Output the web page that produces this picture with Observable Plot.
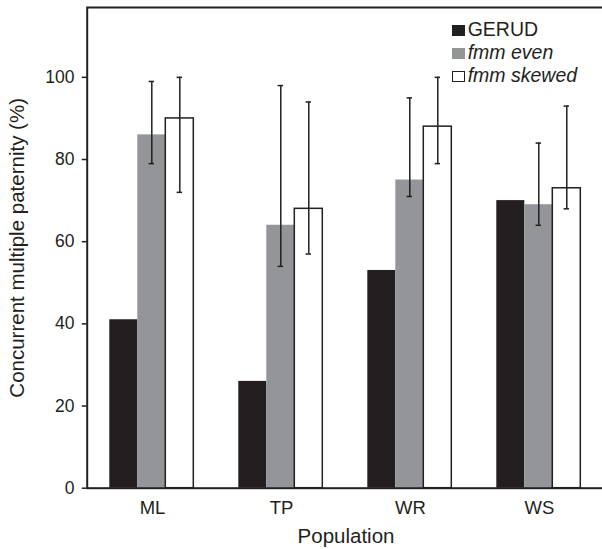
<!DOCTYPE html>
<html>
<head>
<meta charset="utf-8">
<script src="https://cdn.jsdelivr.net/npm/d3@7"></script>
<script src="https://cdn.jsdelivr.net/npm/@observablehq/plot@0.6"></script>
<style>
  body { margin: 0; background: #fff; }
  #wrap { position: relative; width: 602px; height: 549px; overflow: hidden;
          font-family: "Liberation Sans", Arial, sans-serif; color: #231f20; }
  #wrap svg { position: absolute; left: 0; top: 0; }
  #legend { position: absolute; left: 451.7px; top: 18px; font-size: 19.5px; line-height: 23px; }
  #legend .sw { display: inline-block; width: 13px; height: 11px; margin-right: 3px; box-sizing: border-box; }
</style>
</head>
<body>
<div id="wrap"></div>
<script>
// ---- data ----
const populations = ["ML", "TP", "WR", "WS"];
const series = ["GERUD", "fmm even", "fmm skewed"];
const gerud = [41, 26, 53, 70];
const fmmEven = [86, 64, 75, 69];
const fmmEvenLow = [79, 54, 71, 64];
const fmmEvenHigh = [99, 98, 95, 84];
const fmmSkewed = [90, 68, 88, 73];
const fmmSkewedLow = [72, 57, 79, 68];
const fmmSkewedHigh = [100, 94, 100, 93];
const yTicks = [0, 20, 40, 60, 80, 100];
const xTitle = "Population";
const yTitle = "Concurrent multiple paternity (%)";

// ---- styles ----
const ink = "#231f20";
const fills = {"GERUD": ink, "fmm even": "#939598", "fmm skewed": "#ffffff"};
const font = '"Liberation Sans", Arial, sans-serif';

const rows = [];
populations.forEach((p, i) => {
  rows.push({population: p, series: "GERUD", value: gerud[i], low: null, high: null});
  rows.push({population: p, series: "fmm even", value: fmmEven[i], low: fmmEvenLow[i], high: fmmEvenHigh[i]});
  rows.push({population: p, series: "fmm skewed", value: fmmSkewed[i], low: fmmSkewedLow[i], high: fmmSkewedHigh[i]});
});

const W = 602, H = 549;
const margins = {marginTop: 7, marginBottom: 61.3, marginLeft: 86.7, marginRight: -2.3};
const yDomain = [0, 117];
const bandPad = {paddingInner: 0.325, paddingOuter: 0.162};

// Layer 1: grouped bars (faceted by population)
const bars = Plot.plot({
  width: W, height: H, ...margins,
  style: {background: "transparent", fontFamily: font, color: ink},
  facet: {data: rows, x: "population"},
  fx: {domain: populations, ...bandPad, axis: null},
  x: {domain: series, padding: 0, axis: null},
  y: {domain: yDomain, axis: null},
  marks: [
    Plot.barY(rows, {x: "series", y: "value", fill: d => fills[d.series],
      stroke: d => d.series === "fmm skewed" ? ink : "none", strokeWidth: 1.5}),
    Plot.ruleX(rows, {filter: d => d.low != null, x: "series", y1: "low", y2: "high", stroke: ink, strokeWidth: 1.5}),
    Plot.tickY(rows, {filter: d => d.low != null, x: "series", y: "low", stroke: ink, strokeWidth: 1.5, insetLeft: 11.3, insetRight: 11.3}),
    Plot.tickY(rows, {filter: d => d.low != null, x: "series", y: "high", stroke: ink, strokeWidth: 1.5, insetLeft: 11.3, insetRight: 11.3})
  ]
});

// Layer 2: frame, axes and titles
const axes = Plot.plot({
  width: W, height: H, ...margins,
  style: {background: "transparent", fontFamily: font, color: ink},
  x: {domain: populations, ...bandPad, axis: null},
  y: {domain: yDomain, axis: null},
  marks: [
    Plot.frame({stroke: ink, strokeWidth: 2}),
    Plot.axisY(yTicks, {tickSize: 5, tickPadding: 7.7, fontSize: 17.5, label: null, stroke: ink, strokeWidth: 1.5, fill: ink}),
    Plot.axisX({tickSize: 0, tickPadding: 13, fontSize: 18.5, label: null, fill: ink}),
    Plot.text([xTitle], {text: d => d, frameAnchor: "bottom", textAnchor: "middle", lineAnchor: "middle", dy: 48.7, fontSize: 20.5, fill: ink}),
    Plot.text([yTitle], {text: d => d, frameAnchor: "left", textAnchor: "middle", rotate: -90, lineAnchor: "middle", dx: -69.3, fontSize: 20.5, fill: ink})
  ]
});

const wrap = document.getElementById("wrap");
wrap.appendChild(bars);
wrap.appendChild(axes);

// Legend
const legend = document.createElement("div");
legend.id = "legend";
series.forEach(s => {
  const row = document.createElement("div");
  const sw = document.createElement("span");
  sw.className = "sw";
  sw.style.background = fills[s];
  if (s === "fmm skewed") { sw.style.border = "1.3px solid " + ink; }
  row.appendChild(sw);
  const t = document.createElement("span");
  t.textContent = s;
  if (s !== "GERUD") t.style.fontStyle = "italic";
  row.appendChild(t);
  legend.appendChild(row);
});
wrap.appendChild(legend);
</script>
</body>
</html>
